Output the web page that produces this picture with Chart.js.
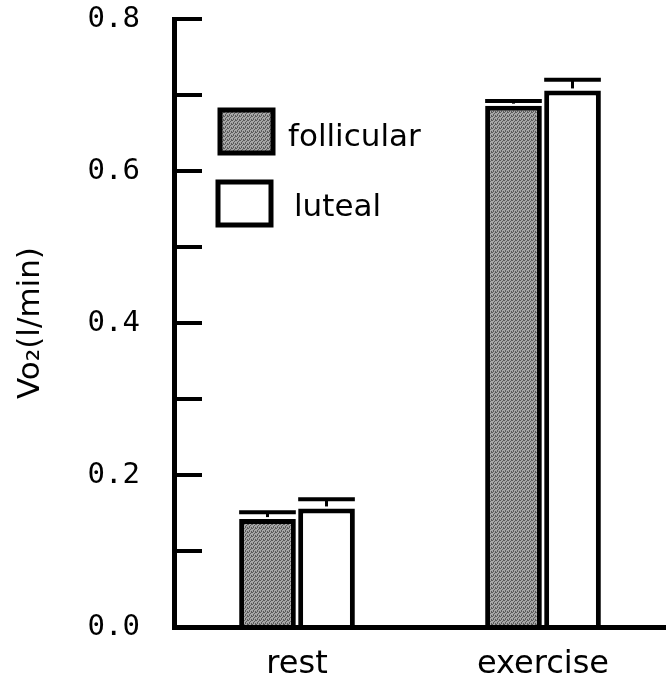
<!DOCTYPE html>
<html>
<head>
<meta charset="utf-8">
<title>VO2 rest vs exercise</title>
<script src="https://cdn.jsdelivr.net/npm/chart.js"></script>
<style>
  body { margin: 0; background: #fff; }
  #wrap { width: 666px; height: 682px; position: relative; }
</style>
</head>
<body>
<div id="wrap"><canvas id="vo2Chart"></canvas></div>

<script>
// values
const categories = ['rest', 'exercise'];
const follicular = [0.142, 0.686];
const follicularErr = [0.009, 0.006];
const luteal = [0.156, 0.706];
const lutealErr = [0.012, 0.014];
const seriesNames = ['follicular', 'luteal'];

// stippled grey like the scanned print
function stipple() {
    const c = document.createElement('canvas');
    c.width = 4; c.height = 4;
    const g = c.getContext('2d');
    g.fillStyle = '#a6a6a6';
    g.fillRect(0, 0, 4, 4);
    g.fillStyle = '#5a5a5a';
    [[0,0],[2,1],[1,2],[3,3],[3,0],[1,3]].forEach(p => g.fillRect(p[0], p[1], 1, 1));
    return g.createPattern(c, 'repeat');
}
const grey = stipple();

// error bar caps on top of each bar
const errorBars = {
    id: 'errorBars',
    afterDatasetsDraw(chart) {
        const ctx = chart.ctx;
        const yScale = chart.scales.y;
        ctx.save();
        ctx.strokeStyle = '#000';
        chart.data.datasets.forEach((ds, i) => {
            const meta = chart.getDatasetMeta(i);
            meta.data.forEach((bar, j) => {
                const top = yScale.getPixelForValue(ds.data[j] + ds.err[j]);
                const half = bar.width / 2;
                ctx.lineWidth = 3;
                ctx.beginPath();
                ctx.moveTo(bar.x, bar.y - 2);
                ctx.lineTo(bar.x, top);
                ctx.stroke();
                ctx.lineWidth = 4;
                ctx.beginPath();
                ctx.moveTo(bar.x - half, top);
                ctx.lineTo(bar.x + half, top);
                ctx.stroke();
            });
        });
        ctx.restore();
    }
};

// boxed legend inside the plot, stacked
const boxLegend = {
    id: 'boxLegend',
    afterDraw(chart) {
        const ctx = chart.ctx;
        const area = chart.chartArea;
        ctx.save();
        ctx.font = '31px "DejaVu Sans"';
        ctx.textBaseline = 'middle';
        chart.data.datasets.forEach((ds, i) => {
            const x = area.left + 46 - i * 2;
            const y = area.top + 91 + i * 72;
            ctx.fillStyle = ds.backgroundColor;
            ctx.fillRect(x, y, 53, 43);
            ctx.lineWidth = 5;
            ctx.strokeStyle = '#000';
            ctx.strokeRect(x, y, 53, 43);
            ctx.fillStyle = '#000';
            ctx.fillText(ds.label, x + 68 + i * 8, y + 28 - i * 2);
        });
        ctx.restore();
    }
};

new Chart(document.getElementById('vo2Chart'), {
    type: 'bar',
    data: {
        labels: categories,
        datasets: [{
            label: seriesNames[0],
            data: follicular,
            err: follicularErr,
            backgroundColor: grey,
            borderColor: '#000',
            borderWidth: 5
        }, {
            label: seriesNames[1],
            data: luteal,
            err: lutealErr,
            backgroundColor: '#fff',
            borderColor: '#000',
            borderWidth: 5
        }]
    },
    options: {
        responsive: true,
        maintainAspectRatio: false,
        animation: false,
        layout: { padding: 0 },
        datasets: { bar: { categoryPercentage: 0.48, barPercentage: 0.96 } },
        plugins: { legend: { display: false }, tooltip: { enabled: false } },
        scales: {
            x: {
                grid: { display: false, drawTicks: false },
                border: { display: true, color: '#000', width: 5 },
                ticks: { color: '#000', padding: 18, font: { family: 'DejaVu Sans', size: 32 } },
                afterFit(scale) { scale.height = 55; }
            },
            y: {
                min: 0,
                max: 0.8,
                grid: { drawOnChartArea: false, drawTicks: true, tickLength: -28, color: '#000', lineWidth: 4 },
                border: { display: true, color: '#000', width: 5 },
                ticks: {
                    stepSize: 0.1,
                    padding: 62,
                    color: '#000',
                    font: { family: 'DejaVu Sans Mono', size: 29 },
                    callback: v => (Math.round(v * 10) % 2 === 0 ? v.toFixed(1) : '')
                },
                title: {
                    display: true,
                    text: 'Vo₂(l/min)',
                    color: '#000',
                    font: { family: 'DejaVu Sans', size: 31 },
                    padding: { top: 12, bottom: 0 }
                },
                afterFit(scale) {
                    scale.width = 174;
                    // the big label padding would otherwise shrink the plot vertically
                    scale.paddingTop = 19;
                    scale.paddingBottom = 0;
                }
            }
        }
    },
    plugins: [errorBars, boxLegend]
});
</script>
</body>
</html>
